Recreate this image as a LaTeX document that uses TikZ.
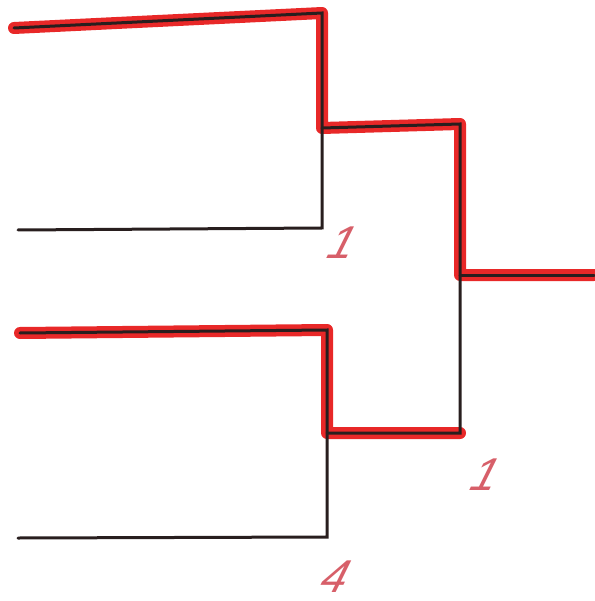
\documentclass[tikz,border=0pt]{standalone}
\usepackage{fontspec}
\setmainfont{Liberation Sans}
\definecolor{hl}{RGB}{232,40,40}
\definecolor{ink}{RGB}{40,30,30}
\definecolor{pen}{RGB}{215,95,105}
\begin{document}
\begin{tikzpicture}[x=1pt,y=-1pt,
  hlline/.style={draw=hl,line width=12pt,line cap=round,line join=round},
  inkline/.style={draw=ink,line width=3pt,line cap=round,line join=miter},
  score/.style={text=pen,font=\fontsize{46}{48}\selectfont\itshape,inner sep=0pt,xslant=0.3}]
\useasboundingbox (0,0) rectangle (594,601);
% coordinates
\coordinate (a1) at (14,28);
\coordinate (a2) at (322,13);
\coordinate (b1) at (18,230);
\coordinate (b2) at (322,228);
\coordinate (m1) at (322,128);
\coordinate (c1) at (20,333);
\coordinate (c2) at (327,330);
\coordinate (d1) at (18,538);
\coordinate (d2) at (327,537);
\coordinate (m2) at (327,433);
\coordinate (f1) at (460,124);
\coordinate (f2) at (460,433);
\coordinate (fm) at (460,275);
\coordinate (w) at (594,275);
% red highlights
\draw[hlline] (a1) -- (a2) -- (m1) -- (f1) -- (fm) -- (w);
\draw[hlline] (c1) -- (c2) -- (m2) -- (f2);
% black lines
\draw[inkline] (a1) -- (a2) -- (b2) -- (b1);
\draw[inkline] (m1) -- (f1) -- (f2) -- (m2);
\draw[inkline] (c1) -- (c2) -- (d2) -- (d1);
\draw[inkline] (fm) -- (w);
% scores
\node[score] (s1) at (343,243) {1};
\node[score] (s2) at (486,475) {1};
\node[score] (s3) at (336,577) {4};
\end{tikzpicture}
\end{document}
